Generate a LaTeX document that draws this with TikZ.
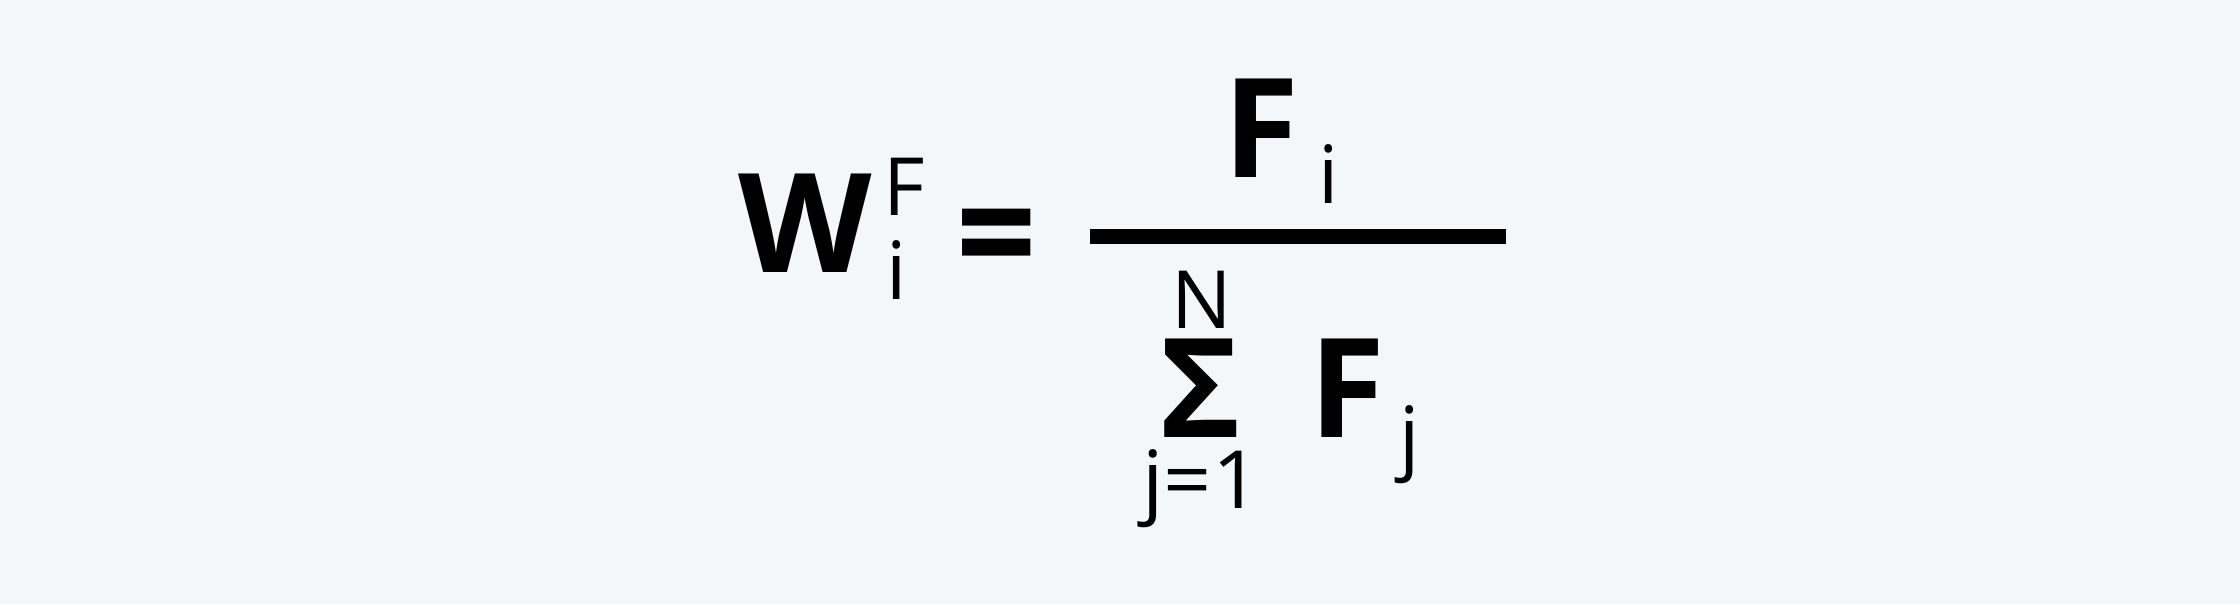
\documentclass[tikz,border=0pt]{standalone}
\usepackage{fontspec}
\setmainfont{Open Sans}
\usetikzlibrary{positioning}
\definecolor{paperColor}{RGB}{244,247,250}
\tikzstyle{formula} = [x = .02cm, y = -.02cm]
\tikzstyle{bigSym} = [inner sep = 0, font=\fontsize{55}{60}\selectfont\bfseries]
\tikzstyle{smallSym} = [inner sep = 0, font=\fontsize{32}{36}\selectfont]
\begin{document}
\begin{tikzpicture}[formula]
      \fill [paperColor] (0, 0) rectangle (1568, 423);

      % left side
      \node [bigSym] (weight) at (564, 156) {W};
      \node [smallSym] (weightSup) at (633, 131) {F};
      \node [smallSym] (weightSub) at (628, 189) {i};
      \node [bigSym, xscale = 1.02, yscale = 1.15] (equals) at (698, 174) {=};

      % numerator
      \node [bigSym] (topF) at (883, 90) {F};
      \node [smallSym] (topSub) at (930, 122) {i};
      \fill (763, 160) rectangle (1054, 171);

      % denominator
      \node [smallSym] (upperLimit) at (841, 210) {N};
      \node [bigSym] (sum) at (840, 272) {Σ};
      \node [bigSym] (bottomF) at (943, 272) {F};
      \node [smallSym] (bottomSub) at (987, 311) {j};
      \node [smallSym, xscale = 1.05] (lowerLimit) at (841, 342) {j=1};
    \end{tikzpicture}
\end{document}
